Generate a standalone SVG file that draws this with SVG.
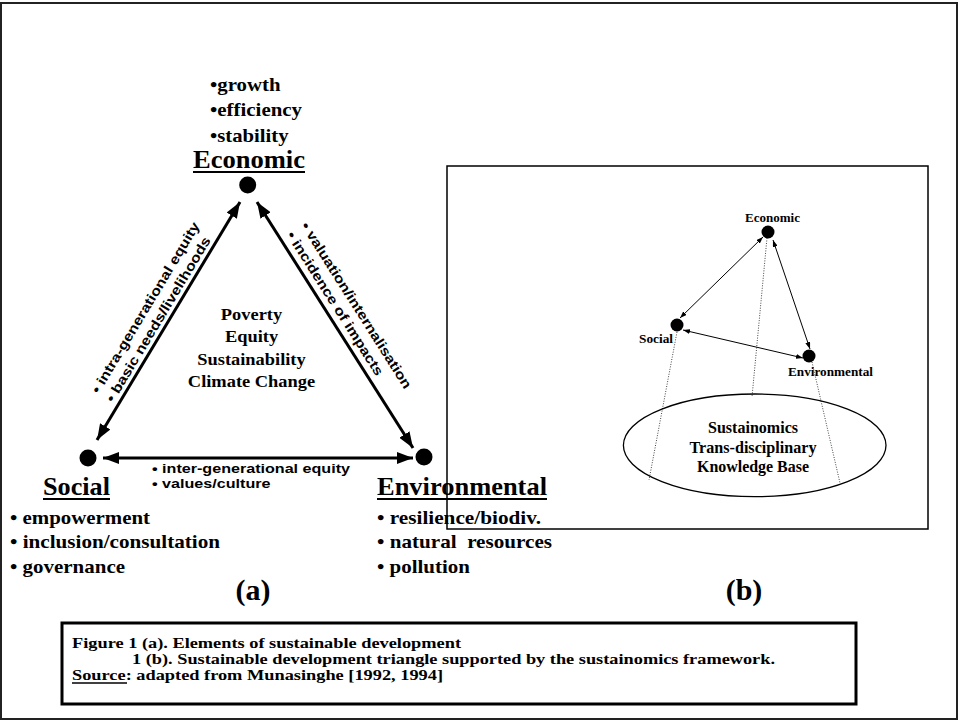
<svg xmlns="http://www.w3.org/2000/svg" width="958" height="720" viewBox="0 0 958 720">
<style>
.serif{font-family:"Liberation Serif","Times New Roman",serif;font-weight:bold;fill:#000}
.sans{font-family:"Liberation Sans",Arial,sans-serif;font-weight:bold;fill:#000}
.big{font-size:25px}
.bul{font-size:19px}
.ctr{font-size:16px;text-anchor:middle}
.lab{font-size:13.5px}
.hlab{font-size:12.5px}
.small{font-size:12px}
.cap{font-size:14.5px}
.thick{stroke:#000;stroke-width:3;fill:none}
.thin{stroke:#000;stroke-width:1;fill:none}
.dot{stroke:#444;stroke-width:1;stroke-dasharray:1 1.5;fill:none}
.ul{stroke:#000;stroke-width:2}
</style>
<defs>
<marker id="ah" markerUnits="userSpaceOnUse" markerWidth="16" markerHeight="12" refX="16" refY="6" orient="auto-start-reverse">
<path d="M0,0 L16,6 L0,12 z" fill="#000"/>
</marker>
<marker id="ahs" markerUnits="userSpaceOnUse" markerWidth="7" markerHeight="5" refX="7" refY="2.5" orient="auto-start-reverse">
<path d="M0,0 L7,2.5 L0,5 z" fill="#000"/>
</marker>
</defs>
<rect x="0" y="0" width="958" height="720" fill="#fff"/>
<rect x="1" y="3" width="956" height="716" fill="none" stroke="#222" stroke-width="2"/>

<!-- Panel (a) -->
<g id="connectors-a">
<line class="thick" x1="97" y1="440" x2="240" y2="202" marker-start="url(#ah)" marker-end="url(#ah)"/>
<line class="thick" x1="257" y1="202" x2="413" y2="448" marker-start="url(#ah)" marker-end="url(#ah)"/>
<line class="thick" x1="103" y1="458" x2="413" y2="458" marker-start="url(#ah)" marker-end="url(#ah)"/>
<g transform="translate(97,440) rotate(-59)">
<text class="sans lab" x="40" y="-22" textLength="197" lengthAdjust="spacingAndGlyphs">• intra-generational equity</text>
<text class="sans lab" x="40" y="-5" textLength="190" lengthAdjust="spacingAndGlyphs">• basic needs/livelihoods</text>
</g>
<g transform="translate(257,202) rotate(57.6)">
<text class="sans lab" x="43.5" y="-24" textLength="194" lengthAdjust="spacingAndGlyphs">• valuation/internalisation</text>
<text class="sans lab" x="43.5" y="-7" textLength="168" lengthAdjust="spacingAndGlyphs">• incidence of impacts</text>
</g>
<text class="sans hlab" x="152" y="473" textLength="198" lengthAdjust="spacingAndGlyphs">• inter-generational equity</text>
<text class="sans hlab" x="152" y="488" textLength="118.5" lengthAdjust="spacingAndGlyphs">• values/culture</text>
</g>

<g id="node-economic">
<text class="serif bul" x="210" y="91" textLength="70.5" lengthAdjust="spacingAndGlyphs">•growth</text>
<text class="serif bul" x="210" y="116" textLength="92" lengthAdjust="spacingAndGlyphs">•efficiency</text>
<text class="serif bul" x="210" y="142" textLength="78.5" lengthAdjust="spacingAndGlyphs">•stability</text>
<text class="serif big" x="193" y="168" textLength="112" lengthAdjust="spacingAndGlyphs">Economic</text>
<line class="ul" x1="193" y1="172" x2="305" y2="172"/>
<circle cx="247.7" cy="185" r="8.5" fill="#000"/>
</g>

<g id="node-social">
<circle cx="88" cy="458" r="8.5" fill="#000"/>
<text class="serif big" x="43" y="495" textLength="67" lengthAdjust="spacingAndGlyphs">Social</text>
<line class="ul" x1="43" y1="499" x2="110" y2="499"/>
<text class="serif bul" x="10" y="524" textLength="140" lengthAdjust="spacingAndGlyphs">• empowerment</text>
<text class="serif bul" x="10" y="548" textLength="210" lengthAdjust="spacingAndGlyphs">• inclusion/consultation</text>
<text class="serif bul" x="10" y="573" textLength="115" lengthAdjust="spacingAndGlyphs">• governance</text>
</g>

<g id="node-environmental">
<circle cx="424" cy="457" r="8.5" fill="#000"/>
<text class="serif big" x="377" y="495" textLength="170" lengthAdjust="spacingAndGlyphs">Environmental</text>
<line class="ul" x1="377" y1="499" x2="547" y2="499"/>
<text class="serif bul" x="377" y="524" textLength="164" lengthAdjust="spacingAndGlyphs">• resilience/biodiv.</text>
<text class="serif bul" x="377" y="548" textLength="175" lengthAdjust="spacingAndGlyphs" xml:space="preserve">• natural  resources</text>
<text class="serif bul" x="377" y="573" textLength="93" lengthAdjust="spacingAndGlyphs">• pollution</text>
</g>

<g id="center-a">
<text class="serif ctr" x="251.5" y="320" textLength="61.3" lengthAdjust="spacingAndGlyphs">Poverty</text>
<text class="serif ctr" x="251.5" y="342" textLength="53.2" lengthAdjust="spacingAndGlyphs">Equity</text>
<text class="serif ctr" x="251.5" y="365" textLength="108.4" lengthAdjust="spacingAndGlyphs">Sustainability</text>
<text class="serif ctr" x="251.5" y="387" textLength="127.3" lengthAdjust="spacingAndGlyphs">Climate Change</text>
</g>

<text class="serif" x="253" y="600" font-size="30" text-anchor="middle">(a)</text>

<!-- Panel (b) -->
<rect x="447" y="166" width="481" height="363" fill="none" stroke="#000" stroke-width="1.5"/>
<g id="connectors-b">
<line class="dot" x1="767" y1="238" x2="752" y2="397"/>
<line class="dot" x1="677" y1="332" x2="649" y2="480"/>
<line class="dot" x1="812" y1="362" x2="840" y2="483"/>
<line class="thin" x1="763" y1="237" x2="680" y2="318" marker-start="url(#ahs)" marker-end="url(#ahs)"/>
<line class="thin" x1="773" y1="240" x2="810" y2="349" marker-start="url(#ahs)" marker-end="url(#ahs)"/>
<line class="thin" x1="683" y1="330" x2="803" y2="358" marker-start="url(#ahs)" marker-end="url(#ahs)"/>
</g>
<g id="b-economic">
<circle cx="768" cy="232" r="6.5" fill="#000"/>
<text class="serif small" x="745" y="222" textLength="55" lengthAdjust="spacingAndGlyphs">Economic</text>
</g>
<g id="b-social">
<circle cx="677" cy="325" r="6.5" fill="#000"/>
<text class="serif small" x="639" y="343" textLength="34" lengthAdjust="spacingAndGlyphs">Social</text>
</g>
<g id="b-environmental">
<circle cx="809" cy="356" r="6.5" fill="#000"/>
<text class="serif small" x="788" y="376" textLength="85" lengthAdjust="spacingAndGlyphs">Environmental</text>
</g>
<g id="b-base">
<ellipse cx="754.7" cy="445.3" rx="131.3" ry="51.3" fill="none" stroke="#000" stroke-width="1.3"/>
<text class="serif ctr" font-size="14" x="753" y="433" textLength="90" lengthAdjust="spacingAndGlyphs">Sustainomics</text>
<text class="serif ctr" font-size="14" x="753" y="452.5" textLength="127" lengthAdjust="spacingAndGlyphs">Trans-disciplinary</text>
<text class="serif ctr" font-size="14" x="753" y="472" textLength="112" lengthAdjust="spacingAndGlyphs">Knowledge Base</text>
</g>
<text class="serif" x="744" y="600" font-size="30" text-anchor="middle">(b)</text>

<!-- Caption -->
<g id="caption">
<rect x="62" y="623" width="794" height="81" fill="none" stroke="#000" stroke-width="3"/>
<text class="serif cap" x="72" y="648" textLength="389" lengthAdjust="spacingAndGlyphs">Figure 1 (a). Elements of sustainable development</text>
<text class="serif cap" x="132" y="664" textLength="643" lengthAdjust="spacingAndGlyphs">1 (b). Sustainable development triangle supported by the sustainomics framework.</text>
<text class="serif cap" x="72" y="680" textLength="371" lengthAdjust="spacingAndGlyphs">Source: adapted from Munasinghe [1992, 1994]</text>
<line x1="72" y1="683" x2="127" y2="683" stroke="#000" stroke-width="1.5"/>
</g>
</svg>
